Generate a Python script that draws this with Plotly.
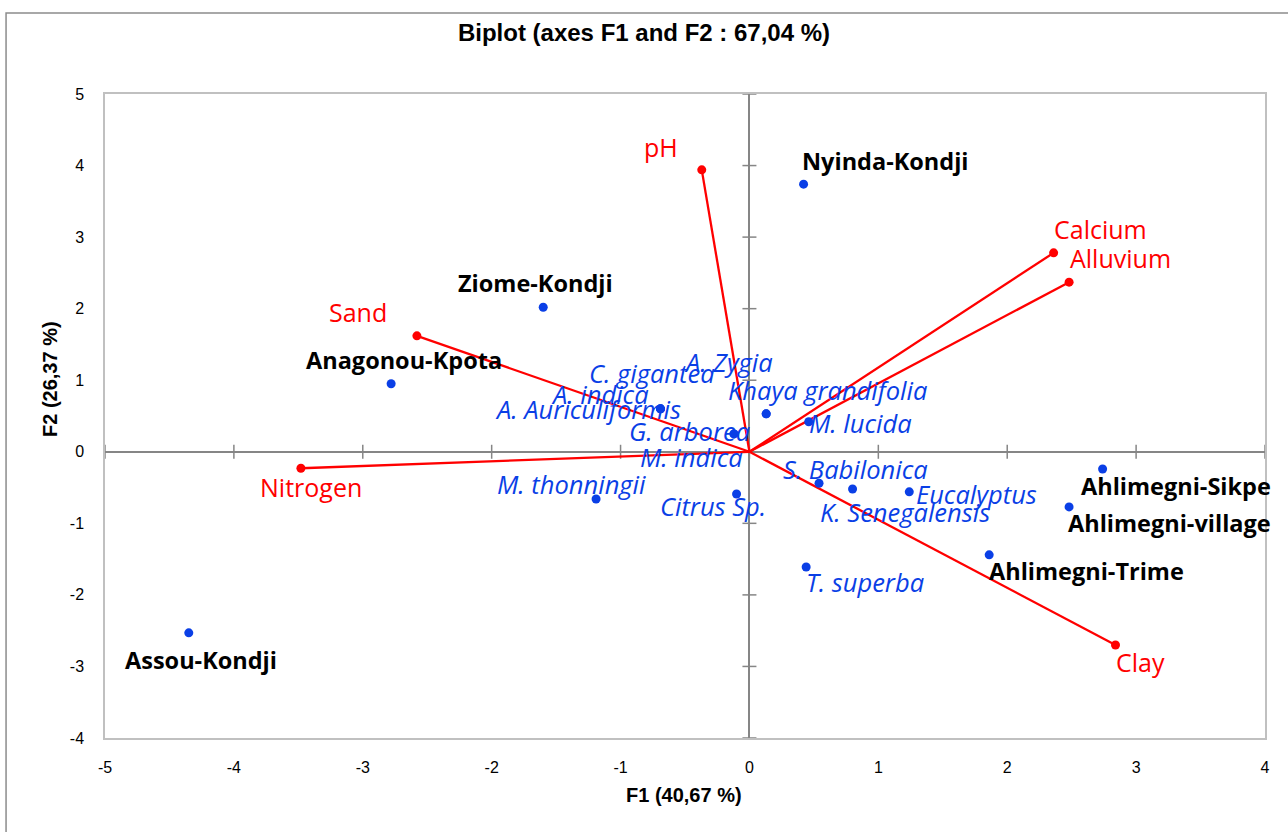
import plotly.graph_objects as go

# ---- Data ----
var_names = ["pH", "Calcium", "Alluvium", "Sand", "Nitrogen", "Clay"]
var_x = [-0.37, 2.36, 2.48, -2.58, -3.48, 2.84]
var_y = [3.94, 2.78, 2.37, 1.62, -0.23, -2.70]

site_names = ["Nyinda-Kondji", "Ziome-Kondji", "Anagonou-Kpota", "Assou-Kondji",
              "Ahlimegni-Sikpe", "Ahlimegni-village", "Ahlimegni-Trime"]
site_x = [0.42, -1.60, -2.78, -4.35, 2.74, 2.48, 1.86]
site_y = [3.74, 2.02, 0.95, -2.53, -0.24, -0.77, -1.44]

species_names = ["A. Auriculiformis", "A. indica", "C. gigantea", "A. Zygia",
                 "Khaya grandifolia", "M. lucida", "G. arborea", "M. indica",
                 "M. thonningii", "Citrus Sp.", "S. Babilonica", "K. Senegalensis",
                 "Eucalyptus", "T. superba"]
species_x = [-0.69, -0.69, -0.69, 0.13, 0.13, 0.46, -0.12, -0.12,
             -1.19, -0.10, 0.54, 0.80, 1.24, 0.44]
species_y = [0.60, 0.60, 0.60, 0.53, 0.53, 0.42, 0.25, 0.25,
             -0.66, -0.59, -0.44, -0.52, -0.56, -1.61]

x_ticks = [-5, -4, -3, -2, -1, 0, 1, 2, 3, 4]
x_ticklabels = ["-5", "-4", "-3", "-2", "-1", "0", "1", "2", "3", "4"]
y_ticks = [-4, -3, -2, -1, 0, 1, 2, 3, 4, 5]
y_ticklabels = ["-4", "-3", "-2", "-1", "0", "1", "2", "3", "4", "5"]

# label offsets in pixels (style)
var_shift = [(-41, 23), (47, 24), (51, 24), (-59, 24), (10, -19), (25, -17)]
site_shift = [(82, 23), (-8, 24), (13, 24), (12, -27), (73, -17), (100, -16), (97, -16)]
species_shift = [(-73, 0), (-61, 15), (-9, 36), (-38, 52), (61, 24), (52, -1),
                 (-44, 3), (-42, -23), (-25, 15), (-24, -12), (36, 14), (52, -23),
                 (67, -2), (59, -15)]

RED = "#FF0000"
BLUE = "#0A3FE6"
GRAY = "#868686"

fig = go.Figure()

# zero-axis tick marks
fig.add_trace(go.Scatter(x=[0] * len(y_ticks), y=y_ticks, mode="markers",
                         marker=dict(symbol="line-ew", size=10,
                                     line=dict(color=GRAY, width=1.5)),
                         hoverinfo="skip"))
fig.add_trace(go.Scatter(x=x_ticks, y=[0] * len(x_ticks), mode="markers",
                         marker=dict(symbol="line-ns", size=10,
                                     line=dict(color=GRAY, width=1.5)),
                         hoverinfo="skip"))

# vectors
lx, ly = [], []
for vx, vy in zip(var_x, var_y):
    lx += [0, vx, None]
    ly += [0, vy, None]
fig.add_trace(go.Scatter(x=lx, y=ly, mode="lines",
                         line=dict(color=RED, width=2.3), hoverinfo="skip"))
fig.add_trace(go.Scatter(x=var_x, y=var_y, mode="markers",
                         marker=dict(color=RED, size=9), text=var_names))

# sites and species
fig.add_trace(go.Scatter(x=site_x, y=site_y, mode="markers",
                         marker=dict(color=BLUE, size=9), text=site_names))
fig.add_trace(go.Scatter(x=species_x, y=species_y, mode="markers",
                         marker=dict(color=BLUE, size=9), text=species_names))

ann = []
for n, x, y, (dx, dy) in zip(var_names, var_x, var_y, var_shift):
    ann.append(dict(x=x, y=y, text=n, showarrow=False, xshift=dx, yshift=dy,
                    font=dict(family="Open Sans", size=25, color=RED)))
for n, x, y, (dx, dy) in zip(site_names, site_x, site_y, site_shift):
    ann.append(dict(x=x, y=y, text=n, showarrow=False, xshift=dx, yshift=dy,
                    font=dict(family="Open Sans", size=23.5, color="black", weight="bold")))
for n, x, y, (dx, dy) in zip(species_names, species_x, species_y, species_shift):
    ann.append(dict(x=x, y=y, text=n, showarrow=False, xshift=dx, yshift=dy,
                    font=dict(family="Open Sans", size=25.5, color=BLUE, style="italic")))

# axis titles
ann.append(dict(xref="paper", yref="paper", x=0.5, y=0, yshift=-57, xshift=-1,
                text="F1 (40,67 %)", showarrow=False, xanchor="center", yanchor="middle",
                font=dict(family="Liberation Sans", size=20, color="black", weight="bold")))
ann.append(dict(xref="paper", yref="paper", x=0, y=0.5, xshift=-55, yshift=37,
                text="F2 (26,37 %)", showarrow=False, textangle=-90,
                xanchor="center", yanchor="middle",
                font=dict(family="Liberation Sans", size=20, color="black", weight="bold")))

fig.update_layout(
    width=1288, height=832,
    margin=dict(l=105, r=23, t=94, b=94),
    paper_bgcolor="white", plot_bgcolor="white",
    showlegend=False,
    title=dict(text="Biplot (axes F1 and F2 : 67,04 %)", x=0.5, xref="container",
               y=1 - 33 / 832, yref="container", yanchor="middle", xanchor="center",
               font=dict(family="Liberation Sans", size=24, color="black", weight="bold")),
    annotations=ann,
    shapes=[dict(type="rect", xref="paper", yref="paper",
                 x0=-0.0853, x1=1.05, y0=-0.2, y1=1.1258,
                 line=dict(color="#8C8C8C", width=1.5), layer="below")],
)
fig.update_xaxes(range=[-5, 4], tickvals=x_ticks, ticktext=x_ticklabels, showgrid=False,
                 zeroline=True, zerolinecolor=GRAY, zerolinewidth=2,
                 showline=True, mirror=True, linecolor="#C0C0C0", linewidth=1.5,
                 ticks="", ticklabelstandoff=14,
                 tickfont=dict(family="Liberation Sans", size=16, color="black"))
fig.update_yaxes(range=[-4, 5], tickvals=y_ticks, ticktext=y_ticklabels, showgrid=False,
                 zeroline=True, zerolinecolor=GRAY, zerolinewidth=2,
                 showline=True, mirror=True, linecolor="#C0C0C0", linewidth=1.5,
                 ticks="", ticklabelstandoff=16,
                 tickfont=dict(family="Liberation Sans", size=16, color="black"))

fig.write_html("out.html")
